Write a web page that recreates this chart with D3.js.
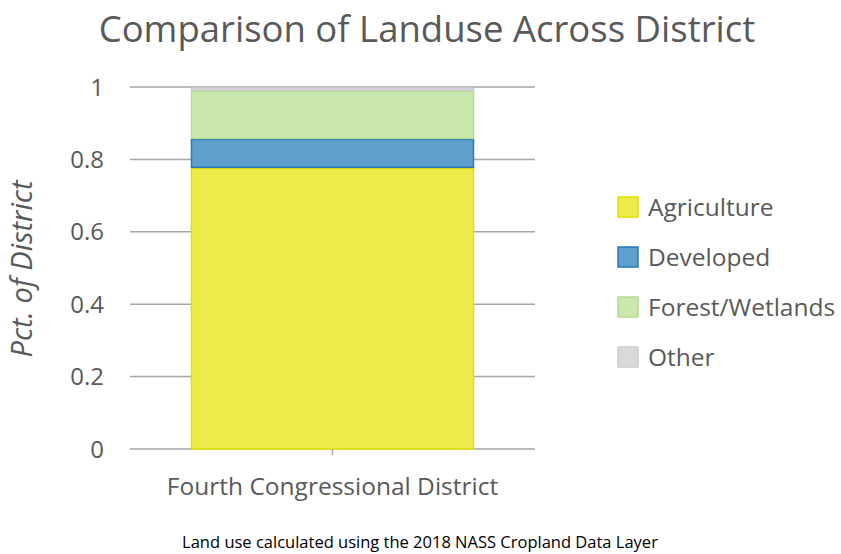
<!DOCTYPE html>
<html>
<head>
<meta charset="utf-8">
<script src="https://cdn.jsdelivr.net/npm/d3@7"></script>
<style>
  body { margin: 0; background: #fff; }
  text { font-family: "Open Sans", sans-serif; }
</style>
</head>
<body>
<svg id="chart" width="841" height="554"></svg>
<script>
// data
const categories = ["Fourth Congressional District"];
const seriesNames = ["Agriculture", "Developed", "Forest/Wetlands", "Other"];
const agriculture = [0.778];
const developed = [0.080];
const forestWetlands = [0.133];
const other = [0.009];
const yTicks = [0, 0.2, 0.4, 0.6, 0.8, 1];

const fills = ["#EDEB4B", "#5F9FCB", "#C9E7AE", "#D9D9D9"];
const strokes = ["#E3E000", "#2A77B4", "#B3DD92", "#CDCDCD"];

const svg = d3.select("#chart");

const x = d3.scaleBand().domain(categories).range([130, 535]).paddingInner(0).paddingOuter(0.213);
const y = d3.scaleLinear().domain([0, 1]).range([449, 87]);

// build stacked rows
const rows = categories.map((c, i) => ({
  cat: c,
  "Agriculture": agriculture[i],
  "Developed": developed[i],
  "Forest/Wetlands": forestWetlands[i],
  "Other": other[i]
}));
const stacked = d3.stack().keys(seriesNames)(rows);

// gridlines
svg.append("g").selectAll("line")
  .data(yTicks)
  .join("line")
  .attr("x1", 130).attr("x2", 535)
  .attr("y1", d => y(d)).attr("y2", d => y(d))
  .attr("stroke", "#A6A6A6")
  .attr("stroke-width", 1.5);

// y tick labels
svg.append("g").selectAll("text")
  .data(yTicks)
  .join("text")
  .attr("x", 104)
  .attr("y", d => y(d))
  .attr("dy", "0.36em")
  .attr("text-anchor", "end")
  .attr("font-size", 24)
  .attr("fill", "#595959")
  .text(d => d3.format("~g")(d));

// bars
stacked.forEach((s, k) => {
  svg.append("g").selectAll("rect")
    .data(s)
    .join("rect")
    .attr("x", d => x(d.data.cat) + 1)
    .attr("width", x.bandwidth() - 2)
    .attr("y", d => y(d[1]) + 1)
    .attr("height", d => Math.max(0, y(d[0]) - y(d[1]) - 1))
    .attr("fill", fills[k])
    .attr("stroke", strokes[k])
    .attr("stroke-width", 1.5);
});

// x axis tick + label
svg.append("line")
  .attr("x1", x(categories[0]) + x.bandwidth() / 2)
  .attr("x2", x(categories[0]) + x.bandwidth() / 2)
  .attr("y1", 449).attr("y2", 455)
  .attr("stroke", "#A6A6A6").attr("stroke-width", 1.5);

svg.append("g").selectAll("text")
  .data(categories)
  .join("text")
  .attr("x", d => x(d) + x.bandwidth() / 2)
  .attr("y", 495)
  .attr("text-anchor", "middle")
  .attr("font-size", 24.5)
  .attr("fill", "#595959")
  .text(d => d);

// title
svg.append("text")
  .attr("x", 427).attr("y", 42)
  .attr("text-anchor", "middle")
  .attr("font-size", 36.5)
  .attr("fill", "#595959")
  .text("Comparison of Landuse Across District");

// y axis title
svg.append("text")
  .attr("transform", "translate(32,269) rotate(-90)")
  .attr("text-anchor", "middle")
  .attr("font-size", 29)
  .attr("font-style", "italic")
  .attr("fill", "#595959")
  .text("Pct. of District");

// legend
const legend = svg.append("g").selectAll("g")
  .data(seriesNames)
  .join("g")
  .attr("transform", (d, i) => `translate(618,${197 + i * 50})`);
legend.append("rect")
  .attr("width", 20).attr("height", 20)
  .attr("fill", (d, i) => fills[i])
  .attr("stroke", (d, i) => strokes[i])
  .attr("stroke-width", 1.5);
legend.append("text")
  .attr("x", 30).attr("y", 10)
  .attr("dy", "0.36em")
  .attr("font-size", 24.5)
  .attr("fill", "#595959")
  .text(d => d);

// footnote
svg.append("text")
  .attr("x", 420).attr("y", 548)
  .attr("text-anchor", "middle")
  .attr("font-size", 16.5)
  .attr("fill", "#000")
  .text("Land use calculated using the 2018 NASS Cropland Data Layer");
</script>
</body>
</html>
